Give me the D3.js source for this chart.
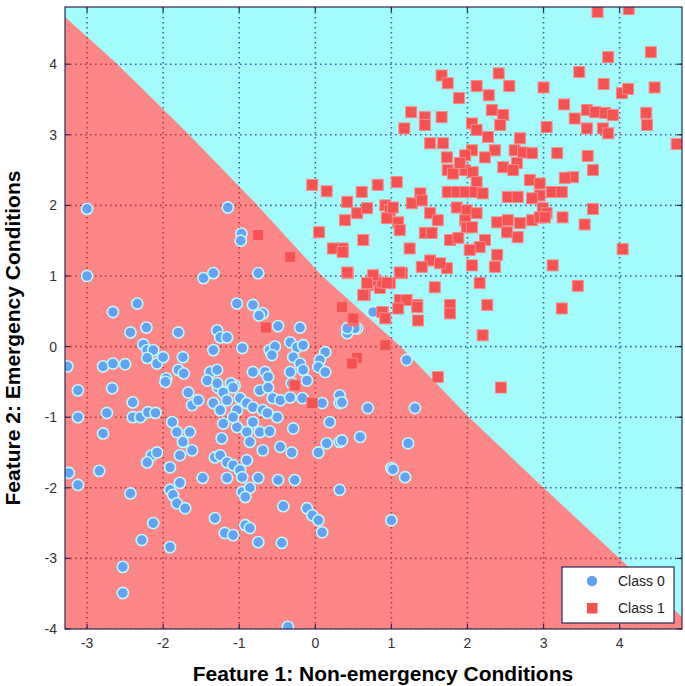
<!DOCTYPE html>
<html>
<head>
<meta charset="utf-8">
<script src="https://cdn.jsdelivr.net/npm/d3@7"></script>
<style>
  body { margin: 0; background: #fff; }
  svg { display: block; }
  .tick-label { font-family: "Liberation Sans Narrow", "Liberation Sans", Arial, sans-serif; font-size: 14px; fill: #333; }
  .axis-title { font-family: "Liberation Sans", Arial, sans-serif; font-size: 21px; font-weight: bold; fill: #000; }
  .legend-label { font-family: "Liberation Sans Narrow", "Liberation Sans", Arial, sans-serif; font-size: 14px; fill: #222; }
</style>
</head>
<body>
<div id="chart"></div>
<script>

// Ticks and labels
const xTicks = [-3, -2, -1, 0, 1, 2, 3, 4];
const yTicks = [-4, -3, -2, -1, 0, 1, 2, 3, 4];
const xTitle = "Feature 1: Non-emergency Conditions";
const yTitle = "Feature 2: Emergency Conditions";
const legendLabels = ["Class 0", "Class 1"];

// Decision boundary (red side is below / left)
const boundary = [
    [-3.29, 4.67], [-2.6, 4], [-1.66, 3], [-0.76, 2], [0.09, 1],
    [1.12, 0], [2.02, -1], [3, -2], [4, -3], [4.82, -3.83]
];

// Class 0 points (circles)
const class0 = [
    [-3.0, 1.95], [-1.15, 1.97], [-0.97, 1.6], [-0.98, 1.5], [-3.0, 1.0],
    [-1.47, 0.97], [-1.34, 1.04], [-2.34, 0.61], [-2.66, 0.49], [-1.03, 0.61],
    [-0.82, 0.59], [-0.69, 0.47], [-0.74, 0.44], [-0.75, 1.04], [-2.43, 0.2],
    [-2.22, 0.27], [-1.8, 0.2], [-1.29, 0.23], [-1.25, 0.13], [-1.16, 0.13],
    [-1.34, -0.05], [-2.26, 0.03], [-2.21, -0.05], [-2.13, -0.05], [-2.21, -0.16],
    [-2.08, -0.24], [-2.0, -0.15], [-1.74, -0.15], [-1.8, -0.33], [-1.73, -0.38],
    [-1.96, -0.45], [-3.26, -0.28], [-2.79, -0.28], [-2.66, -0.24], [-2.5, -0.25],
    [-1.38, -0.36], [-1.29, -0.33], [-1.42, -0.48], [-1.06, -0.55], [-0.49, 0.29],
    [-0.2, 0.27], [-0.96, -0.02], [-0.6, -0.05], [-0.53, 0.0], [-0.57, -0.12],
    [-0.33, 0.06], [-0.24, -0.01], [-0.16, 0.02], [-0.29, -0.15], [-0.2, -0.24],
    [0.13, -0.08], [0.06, -0.19], [0.04, -0.29], [0.13, -0.36], [0.42, 0.19],
    [0.55, 0.26], [0.76, 0.49], [1.2, -0.19], [-0.82, -0.36], [-0.66, -0.36],
    [-0.62, -0.43], [-0.33, -0.36], [-0.16, -0.33], [-0.31, -0.52], [-0.11, -0.48],
    [-1.11, -0.52], [-1.28, -0.58], [-3.12, -0.62], [-2.67, -0.59], [-3.12, -1.0],
    [-2.74, -0.94], [-2.79, -1.23], [-2.4, -0.79], [-2.4, -1.0], [-2.3, -1.0],
    [-2.2, -0.93], [-2.1, -0.94], [-1.97, -0.5], [-1.67, -0.65], [-1.62, -0.83],
    [-1.54, -0.76], [-1.88, -1.07], [-1.82, -1.21], [-1.65, -1.21], [-1.74, -1.35],
    [-1.62, -1.47], [-1.78, -1.54], [-1.91, -1.71], [-2.15, -1.54], [-2.08, -1.5],
    [-2.21, -1.64], [-3.24, -1.79], [-3.12, -1.96], [-2.84, -1.76], [-2.43, -2.08],
    [-1.91, -2.03], [-1.87, -2.1], [-1.78, -1.93], [-1.82, -2.22], [-1.71, -2.29],
    [-1.48, -1.86], [-2.13, -2.5], [-2.28, -2.74], [-1.91, -2.84], [-2.53, -3.12],
    [-2.53, -3.49], [-1.32, -2.43], [-1.19, -2.64], [-1.08, -2.67], [-0.92, -2.53],
    [-0.86, -2.57], [-0.75, -2.77], [-0.44, -2.78], [-0.42, -2.26], [-0.11, -2.29],
    [-0.04, -2.39], [0.04, -2.46], [0.09, -2.63], [-0.36, -3.97], [0.32, -2.03],
    [1.0, -2.46], [1.0, -1.72], [1.18, -1.85], [0.69, -0.87], [1.31, -0.87],
    [1.22, -1.37], [0.59, -1.28], [0.32, -0.69], [0.32, -0.8], [0.19, -1.07],
    [0.32, -1.35], [0.15, -1.37], [0.04, -1.5], [0.09, -0.8], [-0.17, -0.73],
    [-0.29, -1.16], [-0.46, -1.42], [-0.31, -1.5], [-0.27, -1.89], [-0.49, -1.89],
    [-0.75, -1.86], [-0.69, -1.47], [-0.96, -2.06], [-0.86, -2.0], [-0.92, -2.13],
    [-1.16, -1.86], [-1.29, -0.52], [-1.21, -0.65], [-1.34, -0.8], [-1.25, -0.9],
    [-1.16, -0.76], [-1.08, -0.58], [-0.99, -0.73], [-1.03, -0.9], [-0.9, -0.8],
    [-0.82, -0.86], [-0.73, -0.62], [-0.62, -0.58], [-0.56, -0.73], [-0.69, -0.9],
    [-0.5, -1.0], [-0.46, -0.76], [-0.33, -0.72], [-0.73, -1.21], [-0.9, -1.21],
    [-1.03, -1.14], [-1.21, -1.09], [-1.23, -1.3], [-1.08, -1.0], [-1.32, -1.57],
    [-1.25, -1.54], [-1.16, -1.64], [-1.08, -1.68], [-0.99, -1.75], [-0.9, -1.61],
    [-0.96, -1.85], [-0.63, -0.94], [-0.82, -1.07], [0.35, -0.79], [0.35, -1.33],
    [1.02, -1.74], [0.52, 0.26], [0.42, 0.26], [-0.86, -1.35], [-0.6, -1.2]
];

// Class 1 points (squares)
const class1 = [
    [3.71, 4.74], [4.12, 4.78], [4.41, 4.17], [3.85, 4.1], [3.47, 3.89],
    [3.79, 3.72], [4.03, 3.59], [4.11, 3.65], [4.46, 3.67], [4.35, 3.31],
    [4.36, 3.14], [4.75, 2.87], [3.0, 3.67], [3.27, 3.43], [3.41, 3.23],
    [3.57, 3.35], [3.68, 3.32], [3.81, 3.31], [3.91, 3.28], [3.57, 3.09],
    [3.78, 3.09], [3.85, 3.02], [3.04, 3.11], [3.18, 2.74], [3.58, 2.7],
    [3.65, 2.5], [3.39, 2.4], [3.28, 2.39], [3.11, 2.19], [3.24, 2.19],
    [2.95, 2.14], [2.99, 1.96], [3.04, 1.89], [3.65, 1.95], [3.25, 1.83],
    [3.54, 1.73], [4.04, 1.38], [3.12, 1.15], [3.45, 0.86], [3.24, 0.54],
    [1.66, 3.84], [1.74, 3.73], [1.89, 3.52], [2.12, 3.69], [2.28, 3.56],
    [2.41, 3.87], [2.55, 3.69], [2.32, 3.35], [2.47, 3.28], [2.43, 3.14],
    [1.26, 3.32], [1.44, 3.25], [1.44, 3.14], [1.66, 3.25], [1.17, 3.09],
    [2.06, 3.16], [2.12, 3.07], [1.51, 2.88], [1.68, 2.88], [2.27, 2.97],
    [2.36, 2.78], [2.06, 2.78], [1.97, 2.71], [2.23, 2.68], [1.73, 2.68],
    [2.69, 2.95], [2.62, 2.78], [2.73, 2.75], [2.85, 2.74], [2.65, 2.6],
    [2.47, 2.54], [2.6, 2.5], [1.74, 2.5], [1.81, 2.45], [1.97, 2.5],
    [2.07, 2.47], [1.9, 2.6], [2.12, 2.33], [2.82, 2.36], [2.95, 2.31],
    [1.74, 2.19], [1.86, 2.19], [1.97, 2.19], [2.1, 2.19], [2.2, 2.17],
    [2.53, 2.12], [2.66, 2.12], [2.85, 2.1], [1.86, 1.97], [1.99, 1.93],
    [2.12, 1.89], [1.97, 1.79], [2.39, 1.76], [2.53, 1.79], [2.69, 1.75],
    [2.85, 1.79], [2.95, 1.83], [3.02, 1.83], [1.51, 1.89], [1.61, 1.79],
    [1.44, 1.61], [1.53, 1.61], [1.99, 1.69], [2.06, 1.69], [2.52, 1.62],
    [2.66, 1.55], [1.77, 1.51], [1.88, 1.54], [2.23, 1.51], [2.16, 1.41],
    [2.03, 1.37], [2.39, 1.3], [2.36, 1.13], [1.51, 1.22], [1.4, 1.13],
    [1.73, 1.11], [1.64, 1.18], [2.06, 1.15], [1.14, 1.04], [0.98, 0.9],
    [0.78, 0.94], [0.69, 0.87], [0.85, 0.83], [2.16, 0.9], [1.57, 0.84],
    [0.65, 0.73], [1.11, 0.66], [1.2, 0.66], [1.09, 0.54], [1.34, 0.59],
    [1.35, 0.37], [1.77, 0.59], [1.77, 0.47], [2.26, 0.59], [0.89, 0.49],
    [2.2, 0.16], [0.5, 0.37], [0.61, 2.19], [0.82, 2.29], [1.07, 2.33],
    [0.42, 2.05], [0.55, 1.89], [0.68, 1.96], [0.92, 2.0], [0.98, 1.93],
    [0.94, 1.82], [1.02, 1.97], [1.09, 1.76], [1.11, 1.65], [1.27, 2.03],
    [1.38, 2.17], [1.4, 2.07], [0.39, 1.79], [0.63, 1.51], [0.36, 1.39],
    [1.24, 1.39], [0.43, 1.04], [0.75, 0.94], [0.88, 0.91], [-0.04, 2.29],
    [0.15, 2.2], [0.05, 1.62], [0.23, 1.39], [-0.75, 1.58], [-0.33, 1.27],
    [0.36, 1.34], [0.42, 1.05], [1.11, 1.05], [0.76, 1.01], [0.94, 0.9],
    [0.68, 0.9], [0.63, 0.73], [0.88, 0.49], [0.92, 0.4], [1.34, 0.56],
    [0.35, 0.56], [0.5, 0.4], [-0.65, 0.27], [0.92, 0.02], [0.55, -0.16],
    [0.48, -0.24], [-0.27, -0.55], [-0.04, -0.8], [1.61, -0.43], [2.44, -0.58]
];

// Layout
const width = 685, height = 686;
const margin = {top: 7, right: 3, bottom: 57, left: 65};
const innerW = width - margin.left - margin.right;
const innerH = height - margin.top - margin.bottom;

const svg = d3.select("#chart").append("svg")
    .attr("width", width)
    .attr("height", height);

const g = svg.append("g")
    .attr("transform", "translate(" + margin.left + "," + margin.top + ")");

// Scales
const x = d3.scaleLinear().domain([-3.29, 4.82]).range([0, innerW]);
const y = d3.scaleLinear().domain([-4.0, 4.81]).range([innerH, 0]);

// Regions
const redPoly = boundary.concat([[4.82, -4.0], [-3.29, -4.0]]);
const cyanPoly = boundary.concat([[4.82, 4.81], [-3.29, 4.81]]);
const polyPath = d3.line().x(d => x(d[0])).y(d => y(d[1]));

const defs = svg.append("defs");
defs.append("clipPath").attr("id", "clip-red")
    .append("path").attr("d", polyPath(redPoly) + "Z");
defs.append("clipPath").attr("id", "clip-cyan")
    .append("path").attr("d", polyPath(cyanPoly) + "Z");

g.append("rect")
    .attr("width", innerW)
    .attr("height", innerH)
    .attr("fill", "#a4fbfb");

g.append("path")
    .attr("d", polyPath(redPoly) + "Z")
    .attr("fill", "#fd8686");

// Dotted grid, tinted per region
function drawGrid(clipId, color) {
    const grid = g.append("g").attr("clip-path", "url(#" + clipId + ")");
    grid.selectAll(".vgrid")
        .data(xTicks)
        .enter().append("line")
        .attr("x1", d => x(d)).attr("x2", d => x(d))
        .attr("y1", 0).attr("y2", innerH)
        .attr("stroke", color)
        .attr("stroke-width", 1.6)
        .attr("stroke-dasharray", "1.6,3.4");
    grid.selectAll(".hgrid")
        .data(yTicks)
        .enter().append("line")
        .attr("x1", 0).attr("x2", innerW)
        .attr("y1", d => y(d)).attr("y2", d => y(d))
        .attr("stroke", color)
        .attr("stroke-width", 1.6)
        .attr("stroke-dasharray", "1.6,3.4");
}
drawGrid("clip-cyan", "#3a64a8");
drawGrid("clip-red", "#b83a3a");

// Scatter
const plotClip = defs.append("clipPath").attr("id", "clip-plot");
plotClip.append("rect").attr("width", innerW).attr("height", innerH);

const marks = g.append("g").attr("clip-path", "url(#clip-plot)");

marks.selectAll(".c0")
    .data(class0)
    .enter().append("circle")
    .attr("class", "c0")
    .attr("cx", d => x(d[0]))
    .attr("cy", d => y(d[1]))
    .attr("r", 5.6)
    .attr("fill", "#62a4f2")
    .attr("stroke", "#bff8ff")
    .attr("stroke-width", 1.6);

const sq = 11;
marks.selectAll(".c1")
    .data(class1)
    .enter().append("rect")
    .attr("class", "c1")
    .attr("x", d => x(d[0]) - sq / 2)
    .attr("y", d => y(d[1]) - sq / 2)
    .attr("width", sq)
    .attr("height", sq)
    .attr("fill", "#f65252")
    .attr("stroke", "#fb8a8a")
    .attr("stroke-width", 1);

// Box and inward ticks
const boxColor = "#2a2a50";
const tickLen = 5;
g.append("rect")
    .attr("width", innerW)
    .attr("height", innerH)
    .attr("fill", "none")
    .attr("stroke", boxColor)
    .attr("stroke-width", 1.2);

const ticks = g.append("g").attr("stroke", boxColor).attr("stroke-width", 1.2);
xTicks.forEach(t => {
    ticks.append("line").attr("x1", x(t)).attr("x2", x(t)).attr("y1", innerH).attr("y2", innerH - tickLen);
    ticks.append("line").attr("x1", x(t)).attr("x2", x(t)).attr("y1", 0).attr("y2", tickLen);
});
yTicks.forEach(t => {
    ticks.append("line").attr("x1", 0).attr("x2", tickLen).attr("y1", y(t)).attr("y2", y(t));
    ticks.append("line").attr("x1", innerW).attr("x2", innerW - tickLen).attr("y1", y(t)).attr("y2", y(t));
});

// Tick labels
g.selectAll(".xlab")
    .data(xTicks)
    .enter().append("text")
    .attr("class", "tick-label")
    .attr("x", d => x(d))
    .attr("y", innerH + 19)
    .attr("text-anchor", "middle")
    .text(d => d);

g.selectAll(".ylab")
    .data(yTicks)
    .enter().append("text")
    .attr("class", "tick-label")
    .attr("x", -8)
    .attr("y", d => y(d) + 5)
    .attr("text-anchor", "end")
    .text(d => d);

// Axis titles
svg.append("text")
    .attr("class", "axis-title")
    .attr("x", 383)
    .attr("y", 681)
    .attr("text-anchor", "middle")
    .text(xTitle);

svg.append("text")
    .attr("class", "axis-title")
    .attr("transform", "translate(20,338) rotate(-90)")
    .attr("text-anchor", "middle")
    .text(yTitle);

// Legend
const legend = svg.append("g")
    .attr("transform", "translate(562,567)");

legend.append("rect")
    .attr("width", 112)
    .attr("height", 56)
    .attr("fill", "#fff")
    .attr("stroke", boxColor)
    .attr("stroke-width", 1.2);

legend.append("circle")
    .attr("cx", 30).attr("cy", 14)
    .attr("r", 5.2)
    .attr("fill", "#62a4f2");

legend.append("rect")
    .attr("x", 25).attr("y", 36)
    .attr("width", 10.5).attr("height", 10.5)
    .attr("fill", "#f65252");

legend.selectAll(".legend-label")
    .data(legendLabels)
    .enter().append("text")
    .attr("class", "legend-label")
    .attr("x", 56)
    .attr("y", (d, i) => 19 + i * 27)
    .text(d => d);

</script>
</body>
</html>
